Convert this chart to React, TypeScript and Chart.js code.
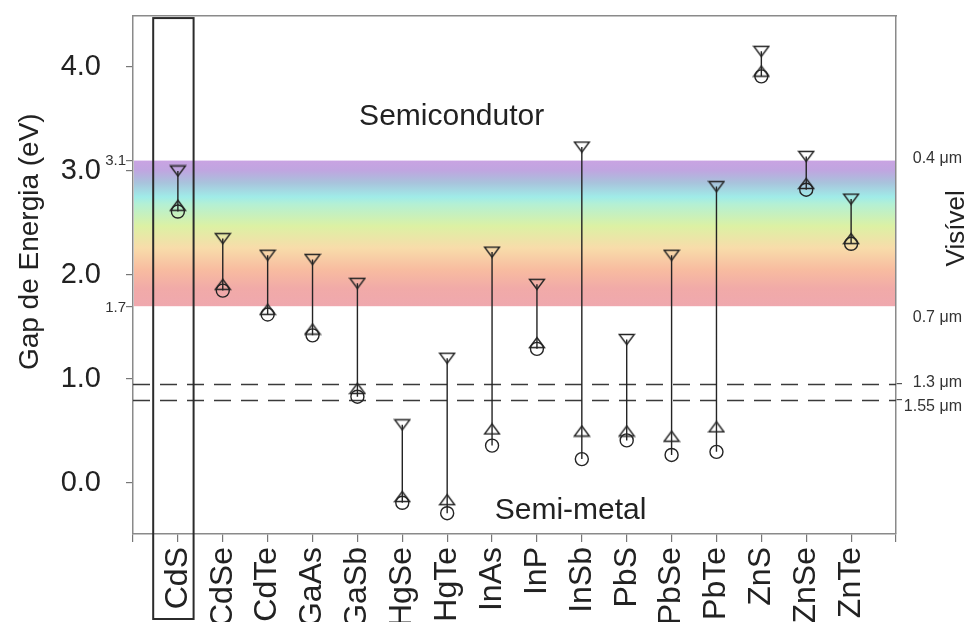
import { useEffect, useRef } from 'react';
import { Chart, registerables } from 'chart.js';

Chart.register(...registerables);

// Semiconductor materials along the x axis
const materials = ['CdS', 'CdSe', 'CdTe', 'GaAs', 'GaSb', 'HgSe', 'HgTe', 'InAs', 'InP', 'InSb', 'PbS', 'PbSe', 'PbTe', 'ZnS', 'ZnSe', 'ZnTe'];
// Upper gap value (downward triangle), eV
const gapUpper = [3.0, 2.35, 2.19, 2.15, 1.92, 0.56, 1.2, 2.22, 1.91, 3.23, 1.38, 2.19, 2.85, 4.15, 3.14, 2.73];
// Middle gap value (upward triangle), eV
const gapMiddle = [2.67, 1.91, 1.67, 1.48, 0.91, -0.13, -0.16, 0.52, 1.35, 0.5, 0.5, 0.45, 0.54, 3.96, 2.88, 2.35];
// Bulk gap value (circle), eV
const gapBulk = [2.61, 1.85, 1.62, 1.42, 0.83, -0.19, -0.29, 0.36, 1.29, 0.23, 0.41, 0.27, 0.3, 3.91, 2.82, 2.3];

// Axis ticks
const yMajorTicks = [0, 1, 2, 3, 4];
const yMinorTicks = [3.1, 1.7];
// Visible window (eV) and its wavelength labels
const visibleRange = [3.1, 1.7];
const visibleLabels = ['0.4 μm', '0.7 μm'];
// Telecom wavelengths drawn as dashed lines (eV)
const telecomLines = [0.954, 0.8];
const telecomLabels = ['1.3 μm', '1.55 μm'];

const FONT = '"Liberation Sans", Arial, Helvetica, sans-serif';
const INK = '#242424';
const FRAME = '#8a8a8a';

function triangleImage(down: boolean): HTMLCanvasElement {
  const w = 18;
  const h = 13;
  const c = document.createElement('canvas');
  c.width = w;
  c.height = h;
  const g = c.getContext('2d')!;
  g.strokeStyle = INK;
  g.lineWidth = 1.4;
  g.beginPath();
  if (down) {
    g.moveTo(1.5, 1.5);
    g.lineTo(w - 1.5, 1.5);
    g.lineTo(w / 2, h - 1.5);
  } else {
    g.moveTo(1.5, h - 1.5);
    g.lineTo(w - 1.5, h - 1.5);
    g.lineTo(w / 2, 1.5);
  }
  g.closePath();
  g.stroke();
  return c;
}

// keep the plot box at its own size regardless of label overhang
const noOverhang = (s: any) => {
  s.paddingTop = 0;
  s.paddingBottom = 0;
  s.paddingLeft = 0;
  s.paddingRight = 0;
};

const decorPlugin = {
  id: 'decor',
  beforeDatasetsDraw(chart: any) {
    const { ctx, chartArea, scales } = chart;
    const y = scales.y;
    const { left, right } = chartArea;
    // rainbow band of the visible spectrum
    const yt = y.getPixelForValue(visibleRange[0]);
    const yb = y.getPixelForValue(visibleRange[1]);
    const grad = ctx.createLinearGradient(0, yt, 0, yb);
    const stops: [number, string][] = [
      [0, '#c9a3e2'],
      [0.07, '#bfa6e0'],
      [0.15, '#a9c2dc'],
      [0.25, '#a0ece8'],
      [0.3, '#b4f0d4'],
      [0.45, '#dcf1a4'],
      [0.6, '#f8dcaa'],
      [0.75, '#f8bca0'],
      [0.88, '#f1aaa8'],
      [1, '#efa8ae'],
    ];
    stops.forEach(([t, c]) => grad.addColorStop(t, c));
    ctx.save();
    ctx.fillStyle = grad;
    ctx.fillRect(left + 1, yt, right - left - 2, yb - yt);
    // dashed telecom lines
    ctx.strokeStyle = '#3a3a3a';
    ctx.lineWidth = 1.5;
    ctx.setLineDash([17, 10]);
    telecomLines.forEach((v) => {
      const py = Math.round(y.getPixelForValue(v)) + 0.5;
      ctx.beginPath();
      ctx.moveTo(left, py);
      ctx.lineTo(right, py);
      ctx.stroke();
    });
    ctx.restore();
  },
  afterDatasetsDraw(chart: any) {
    const { ctx, scales } = chart;
    const x = scales.x;
    const y = scales.y;
    ctx.save();
    ctx.fillStyle = '#222';
    ctx.font = `30px ${FONT}`;
    ctx.textAlign = 'center';
    ctx.textBaseline = 'middle';
    ctx.fillText('Semicondutor', x.getPixelForValue(6.1), y.getPixelForValue(3.52));
    ctx.fillText('Semi-metal', x.getPixelForValue(8.75), y.getPixelForValue(-0.27));
    ctx.restore();
  },
  afterDraw(chart: any) {
    const { ctx, chartArea, scales } = chart;
    const x = scales.x;
    const y = scales.y;
    ctx.save();
    // highlight box around CdS
    ctx.strokeStyle = '#2b2b2b';
    ctx.lineWidth = 2;
    const bx0 = x.getPixelForValue(-0.55);
    const bx1 = x.getPixelForValue(0.35);
    const by0 = y.getPixelForValue(4.47);
    ctx.strokeRect(bx0, by0, bx1 - bx0, chart.height - 3 - by0);

    // small tick labels for the visible edges
    ctx.fillStyle = '#333';
    ctx.font = `15px ${FONT}`;
    ctx.textAlign = 'right';
    ctx.textBaseline = 'middle';
    yMinorTicks.forEach((v, i) => {
      ctx.fillText(v.toFixed(1), chartArea.left - 7, y.getPixelForValue(v) + (i === 0 ? 0 : 2));
    });

    // wavelength labels on the right
    ctx.font = `16px ${FONT}`;
    ctx.fillStyle = '#333';
    const rx = chartArea.right + 66;
    ctx.fillText(visibleLabels[0], rx, y.getPixelForValue(visibleRange[0]) - 2);
    ctx.fillText(visibleLabels[1], rx, y.getPixelForValue(visibleRange[1]) + 11);
    ctx.fillText(telecomLabels[0], rx, y.getPixelForValue(telecomLines[0]) - 1);
    ctx.fillText(telecomLabels[1], rx, y.getPixelForValue(telecomLines[1]) + 7);

    // right-side title
    ctx.font = `26px ${FONT}`;
    ctx.fillStyle = '#222';
    ctx.textAlign = 'center';
    ctx.translate(chartArea.right + 61, y.getPixelForValue((visibleRange[0] + visibleRange[1]) / 2) - 5);
    ctx.rotate(-Math.PI / 2);
    ctx.fillText('Visível', 0, 0);
    ctx.restore();

    // left axis title
    ctx.save();
    ctx.font = `28px ${FONT}`;
    ctx.fillStyle = '#222';
    ctx.textAlign = 'center';
    ctx.textBaseline = 'middle';
    ctx.translate(30, y.getPixelForValue(2.32));
    ctx.rotate(-Math.PI / 2);
    ctx.fillText('Gap de Energia (eV)', 0, 0);
    ctx.restore();
  },
};

export default function App() {
  const ref = useRef<HTMLCanvasElement | null>(null);

  useEffect(() => {
    if (!ref.current) return;
    Chart.defaults.font.family = FONT;
    const downTri = triangleImage(true);
    const upTri = triangleImage(false);

    const stems: { x: number; y: number | null }[] = [];
    materials.forEach((_, i) => {
      stems.push({ x: i, y: gapUpper[i] });
      stems.push({ x: i, y: gapBulk[i] });
      stems.push({ x: i, y: null });
    });

    const chart = new Chart(ref.current, {
      type: 'scatter',
      data: {
        datasets: [
          {
            label: 'upper',
            data: materials.map((_, i) => ({ x: i, y: gapUpper[i] })),
            pointStyle: downTri as any,
            pointRadius: 8,
          },
          {
            label: 'middle',
            data: materials.map((_, i) => ({ x: i, y: gapMiddle[i] })),
            pointStyle: upTri as any,
            pointRadius: 8,
          },
          {
            label: 'bulk',
            data: materials.map((_, i) => ({ x: i, y: gapBulk[i] })),
            pointStyle: 'circle',
            pointRadius: 6.5,
            borderColor: INK,
            borderWidth: 1.4,
            backgroundColor: 'rgba(0,0,0,0)',
          },
          {
            label: 'stems',
            data: stems as any,
            showLine: true,
            spanGaps: false,
            borderColor: INK,
            borderWidth: 1.4,
            pointRadius: 0,
          },
        ],
      },
      options: {
        responsive: false,
        animation: false,
        events: [],
        layout: { padding: 0 },
        plugins: {
          legend: { display: false },
          tooltip: { enabled: false },
          title: { display: false },
        },
        scales: {
          x: {
            type: 'linear',
            position: 'bottom',
            min: -1,
            max: 16,
            afterBuildTicks: (s: any) => {
              const t = [];
              for (let v = -1; v <= 16; v++) t.push({ value: v });
              s.ticks = t;
            },
            afterFit: (s: any) => {
              s.height = 88;
              noOverhang(s);
            },
            ticks: {
              autoSkip: false,
              minRotation: 90,
              maxRotation: 90,
              padding: 5,
              color: '#222',
              font: { size: 32 },
              callback: (v: any) => materials[v as number] ?? '',
            },
            grid: { drawOnChartArea: false, tickLength: 8, color: '#777', lineWidth: 1.2 },
            border: { display: true, color: FRAME, width: 1.5 },
          },
          xTop: {
            type: 'linear',
            position: 'top',
            min: -1,
            max: 16,
            afterFit: (s: any) => {
              s.height = 16;
              noOverhang(s);
            },
            ticks: { display: false },
            grid: { drawOnChartArea: false, drawTicks: false },
            border: { display: true, color: FRAME, width: 1.5 },
          },
          y: {
            type: 'linear',
            position: 'left',
            min: -0.49,
            max: 4.49,
            afterBuildTicks: (s: any) => {
              s.ticks = [...yMajorTicks, ...yMinorTicks].sort((a, b) => a - b).map((v) => ({ value: v }));
            },
            afterFit: (s: any) => {
              s.width = 133;
              noOverhang(s);
            },
            ticks: {
              padding: 25,
              color: '#222',
              font: { size: 29 },
              callback: (v: any) => (yMajorTicks.includes(v as number) ? (v as number).toFixed(1) : ''),
            },
            grid: { drawOnChartArea: false, tickLength: 7, color: '#777', lineWidth: 1.2 },
            border: { display: true, color: FRAME, width: 1.5 },
          },
          yRight: {
            type: 'linear',
            position: 'right',
            min: -0.49,
            max: 4.49,
            afterBuildTicks: (s: any) => {
              s.ticks = telecomLines.map((v) => ({ value: v }));
            },
            afterFit: (s: any) => {
              s.width = 83;
              noOverhang(s);
            },
            ticks: { display: true, callback: () => '', padding: 0 },
            grid: { drawOnChartArea: false, tickLength: 6, color: '#555', lineWidth: 1.2 },
            border: { display: true, color: FRAME, width: 1.5 },
          },
        },
      },
      plugins: [decorPlugin],
    });

    return () => chart.destroy();
  }, []);

  return (
    <div style={{ position: 'fixed', left: 0, top: 0, width: 979, height: 622, background: '#fff' }}>
      <canvas ref={ref} width={979} height={622} style={{ display: 'block' }} />
    </div>
  );
}
